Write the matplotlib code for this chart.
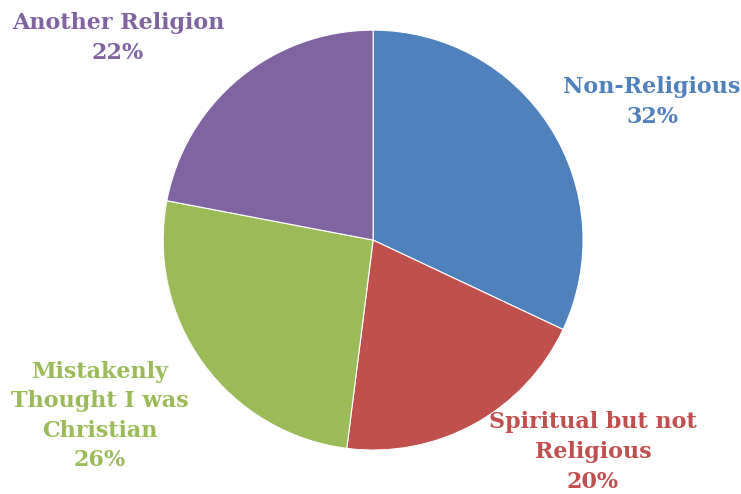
import matplotlib.pyplot as plt

labels = ["Non-Religious", "Spiritual but not\nReligious",
          "Mistakenly\nThought I was\nChristian", "Another Religion"]
shares = [32, 20, 26, 22]
colors = ["#4F81BD", "#C0504D", "#9BBB59", "#8064A2"]

fig = plt.figure(figsize=(7.41, 4.94), dpi=100)
ax = fig.add_axes([0.22, 0.089, 0.567, 0.85])
ax.pie(shares, colors=colors, startangle=90, counterclock=False,
       radius=1.0, wedgeprops=dict(edgecolor="white", linewidth=0.8))
ax.set_xlim(-1, 1)
ax.set_ylim(-1, 1)
ax.set_aspect("equal")

# label positions in pixels from the top-left corner
label_pos = [(652, 102), (593, 452), (100, 416), (118, 38)]
for lab, val, col, (px, py) in zip(labels, shares, colors, label_pos):
    fig.text(px / 741, 1 - py / 494, f"{lab}\n{val}%", color=col,
             ha="center", va="center", fontsize=16, fontweight="bold",
             family="DejaVu Serif", linespacing=1.45)

plt.savefig("out.png", dpi=100)
